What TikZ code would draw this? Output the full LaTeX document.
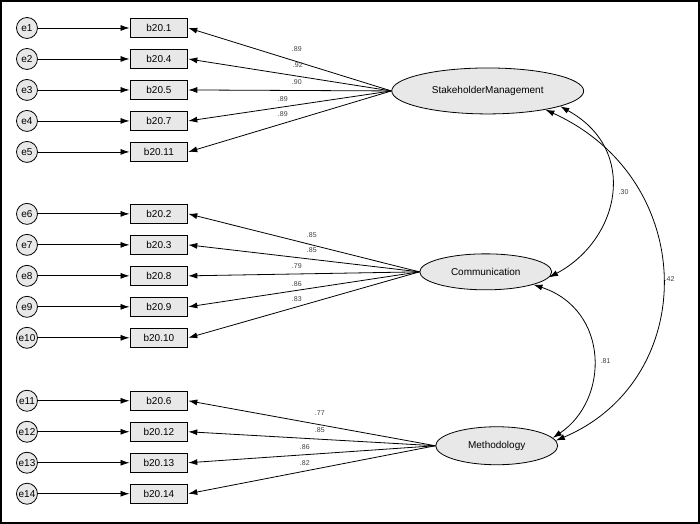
\documentclass[tikz,border=0pt]{standalone}
\usepackage{fontspec}
\setmainfont{Liberation Sans}
\usetikzlibrary{arrows.meta,shapes.geometric}
\begin{document}
\begin{tikzpicture}[x=1pt,y=-1pt,
  err/.style={circle,draw,thick,fill=gray!18,minimum size=21pt,inner sep=0pt,font=\fontsize{10}{10}\selectfont},
  obs/.style={rectangle,draw,thick,fill=gray!18,minimum width=58pt,minimum height=19pt,inner sep=0pt,font=\fontsize{10}{10}\selectfont},
  lat/.style={ellipse,draw,thick,fill=gray!18,inner sep=0pt,font=\fontsize{10}{10}\selectfont},
  arr/.style={-{Latex[length=9pt,width=6pt]},thick},
  darr/.style={{Latex[length=9pt,width=6pt]}-{Latex[length=9pt,width=6pt]},thick},
  lab/.style={font=\fontsize{7}{7}\selectfont,text=black!75,inner sep=0pt}]
\draw[line width=2pt,fill=white] (1,1) rectangle (699,523);
\node[lat,minimum width=192pt,minimum height=46pt] (SM) at (488,91) {StakeholderManagement};
\node[lat,minimum width=132pt,minimum height=36pt] (CO) at (486,272) {Communication};
\node[lat,minimum width=122pt,minimum height=38pt] (ME) at (497,446) {Methodology};
\foreach \i/\b/\y in {1/b20.1/28,2/b20.4/59,3/b20.5/90,4/b20.7/121,5/b20.11/152,
  6/b20.2/214,7/b20.3/245,8/b20.8/276,9/b20.9/307,10/b20.10/338,
  11/b20.6/401,12/b20.12/432,13/b20.13/463,14/b20.14/494}{
  \node[err] (e\i) at (27,\y) {e\i};
  \node[obs] (b\i) at (159,\y) {\b};
  \draw[arr] (e\i) -- (b\i);
}
\foreach \i in {1,...,5}{\draw[arr] (SM.west) -- (b\i.east);}
\foreach \i in {6,...,10}{\draw[arr] (CO.west) -- (b\i.east);}
\foreach \i in {11,...,14}{\draw[arr] (ME.west) -- (b\i.east);}
\node[lab] (l1) at (297,49) {.89};
\node[lab] (l2) at (298,65) {.92};
\node[lab] (l3) at (297,82) {.90};
\node[lab] (l4) at (283,99) {.89};
\node[lab] (l5) at (283,114) {.89};
\node[lab] (l6) at (312,235) {.85};
\node[lab] (l7) at (312,250) {.85};
\node[lab] (l8) at (297,266) {.79};
\node[lab] (l9) at (297,284) {.86};
\node[lab] (l10) at (297,299) {.83};
\node[lab] (l11) at (320,413) {.77};
\node[lab] (l12) at (320,430) {.85};
\node[lab] (l13) at (305,447) {.86};
\node[lab] (l14) at (305,463) {.82};
\draw[darr] (SM.-12) .. controls (640,150) and (620,240) .. (CO.-5);
\draw[darr] (CO.-15) .. controls (610,310) and (610,400) .. (ME.8);
\draw[darr] (SM.-18) .. controls (700,180) and (700,380) .. (ME.5);
\node[lab] (c1) at (624,192) {.30};
\node[lab] (c2) at (606,361) {.81};
\node[lab] (c3) at (670,279) {.42};
\end{tikzpicture}
\end{document}
